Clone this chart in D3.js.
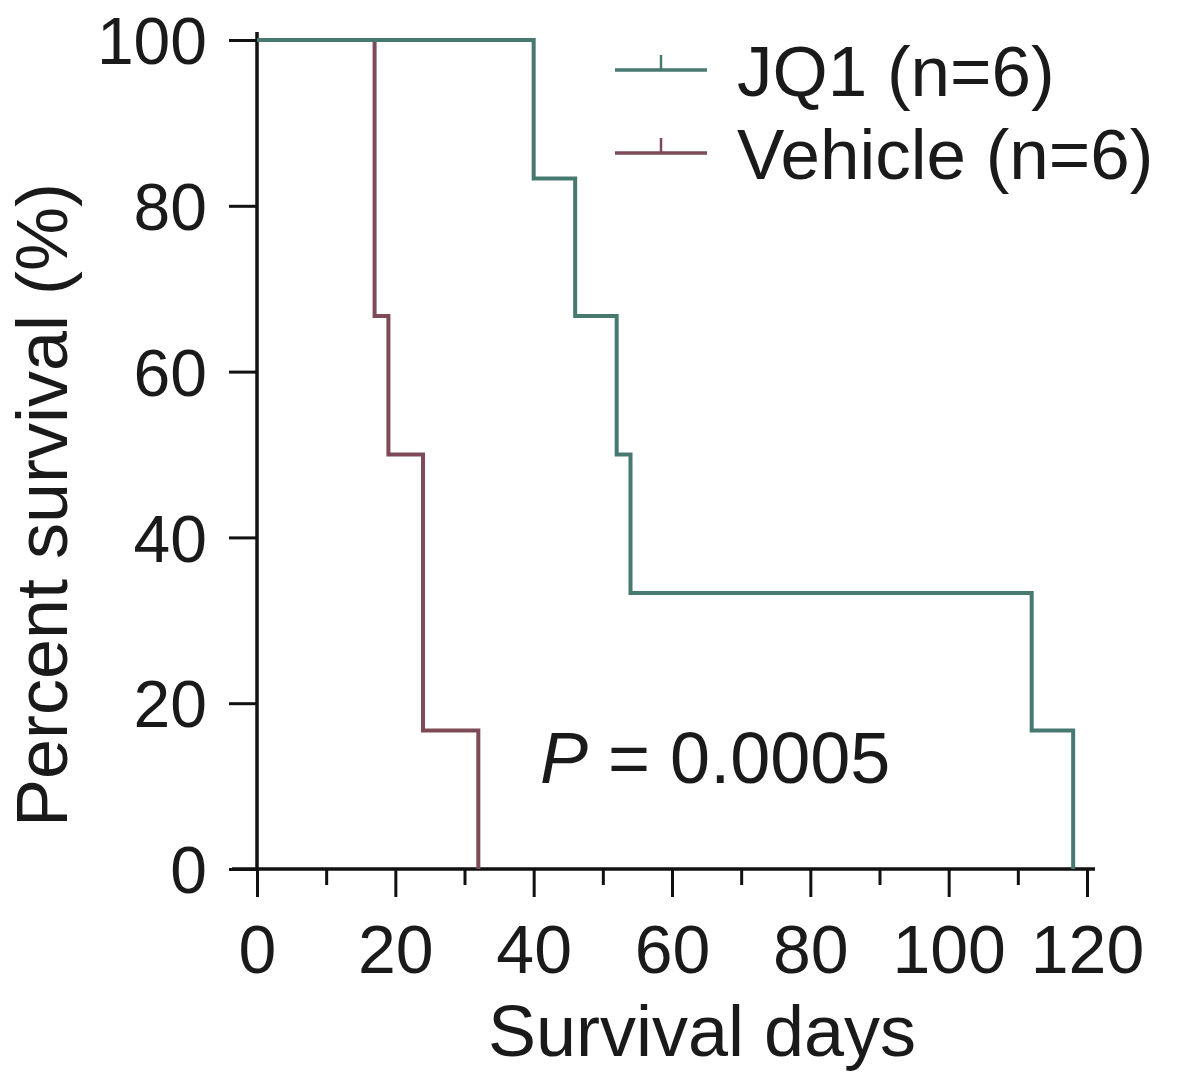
<!DOCTYPE html>
<html>
<head>
<meta charset="utf-8">
<script src="https://cdn.jsdelivr.net/npm/d3@7"></script>
<style>
  body { margin: 0; background: #fff; }
  svg { display: block; font-family: 'Liberation Sans', Arial, sans-serif; }
</style>
</head>
<body>
<div id="chart"></div>
<script>
// Kaplan-Meier steps
const jq1Times = [0, 40, 46, 52, 54, 112, 118];
const jq1Survival = [100, 83.3, 66.7, 50, 33.3, 16.7, 0];
const vehicleTimes = [0, 17, 19, 24, 32];
const vehicleSurvival = [100, 66.7, 50, 16.7, 0];

const xTicks = [0, 20, 40, 60, 80, 100, 120];
const xMinorTicks = [10, 30, 50, 70, 90, 110];
const yTicks = [0, 20, 40, 60, 80, 100];

const seriesNames = ['JQ1 (n=6)', 'Vehicle (n=6)'];
const seriesColors = ['#46796f', '#7d4a56'];

const width = 1177;
const height = 1073;

const svg = d3.select('#chart')
    .append('svg')
    .attr('width', width)
    .attr('height', height);

const x = d3.scaleLinear().domain([0, 120]).range([257, 1087]);
const y = d3.scaleLinear().domain([0, 100]).range([869, 40]);

// axes
const xAxis = svg.append('g')
    .attr('transform', `translate(0,${y(0)})`)
    .call(d3.axisBottom(x).tickValues(xTicks).tickSize(28).tickPadding(28));
xAxis.select('.domain').remove();
xAxis.selectAll('.tick line').attr('stroke', '#111').attr('stroke-width', 3);
xAxis.selectAll('.tick text')
    .attr('font-size', 68)
    .attr('fill', '#1a1a1a')
    .attr('font-family', "'Liberation Sans', Arial, sans-serif");

const xMinor = svg.append('g')
    .attr('transform', `translate(0,${y(0)})`)
    .call(d3.axisBottom(x).tickValues(xMinorTicks).tickSize(16).tickFormat(''));
xMinor.select('.domain').remove();
xMinor.selectAll('.tick line').attr('stroke', '#111').attr('stroke-width', 3);

svg.append('line')
    .attr('x1', x(0) - 25).attr('x2', x(120) + 8)
    .attr('y1', y(0)).attr('y2', y(0))
    .attr('stroke', '#111').attr('stroke-width', 3.5);

const yAxis = svg.append('g')
    .attr('transform', `translate(${x(0)},0)`)
    .call(d3.axisLeft(y).tickValues(yTicks).tickSize(28).tickPadding(22));
yAxis.select('.domain').remove();
yAxis.selectAll('.tick line').attr('stroke', '#111').attr('stroke-width', 3);
yAxis.selectAll('.tick text')
    .attr('font-size', 66)
    .attr('fill', '#1a1a1a')
    .attr('dy', '0.36em')
    .attr('font-family', "'Liberation Sans', Arial, sans-serif");

svg.append('line')
    .attr('x1', x(0)).attr('x2', x(0))
    .attr('y1', y(100) - 8).attr('y2', y(0))
    .attr('stroke', '#111').attr('stroke-width', 3.5);

// survival curves
const line = d3.line()
    .x(d => x(d[0]))
    .y(d => y(d[1]))
    .curve(d3.curveStepAfter);

const curves = [
    d3.zip(vehicleTimes, vehicleSurvival),
    d3.zip(jq1Times, jq1Survival)
];
const curveColors = [seriesColors[1], seriesColors[0]];

svg.append('g').selectAll('path')
    .data(curves)
    .join('path')
    .attr('d', line)
    .attr('fill', 'none')
    .attr('stroke', (d, i) => curveColors[i])
    .attr('stroke-width', 4);

// legend
const legend = svg.append('g').selectAll('g')
    .data(seriesNames)
    .join('g')
    .attr('transform', (d, i) => `translate(615,${70 + i * 83})`);

legend.append('line')
    .attr('x1', 0).attr('x2', 92)
    .attr('stroke', (d, i) => seriesColors[i])
    .attr('stroke-width', 3.5);
legend.append('line')
    .attr('x1', 46).attr('x2', 46)
    .attr('y1', 0).attr('y2', -15)
    .attr('stroke', (d, i) => seriesColors[i])
    .attr('stroke-width', 2.5);
legend.append('text')
    .attr('x', 122)
    .attr('y', 26)
    .attr('font-size', 71)
    .attr('fill', '#1a1a1a')
    .text(d => d);

// p value
const pText = svg.append('text')
    .attr('x', 540)
    .attr('y', 783)
    .attr('font-size', 72)
    .attr('fill', '#1a1a1a');
pText.append('tspan').attr('font-style', 'italic').text('P');
pText.append('tspan').text(' = 0.0005');

// axis titles
svg.append('text')
    .attr('x', 702)
    .attr('y', 1056)
    .attr('text-anchor', 'middle')
    .attr('font-size', 72)
    .attr('fill', '#1a1a1a')
    .text('Survival days');

svg.append('text')
    .attr('transform', 'translate(67,505) rotate(-90)')
    .attr('text-anchor', 'middle')
    .attr('font-size', 72)
    .attr('fill', '#1a1a1a')
    .text('Percent survival (%)');
</script>
</body>
</html>
